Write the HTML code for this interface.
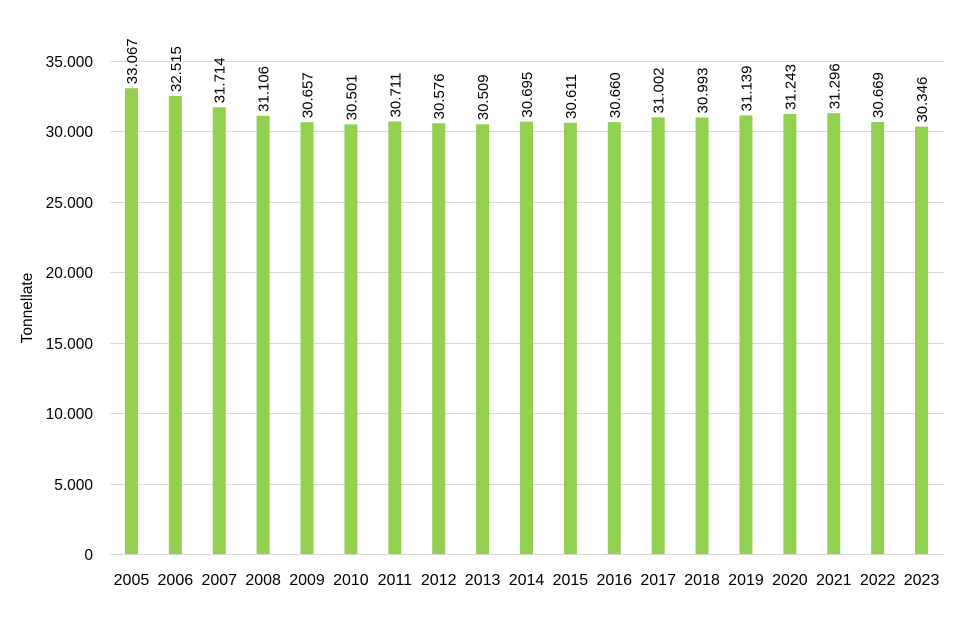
<!DOCTYPE html>
<html><head><meta charset="utf-8"><style>
html,body{margin:0;padding:0;background:#fff;}
svg text{font-family:"Liberation Sans",sans-serif;fill:#000;}
</style></head><body>
<svg width="976" height="638" viewBox="0 0 976 638" xmlns="http://www.w3.org/2000/svg">
<g id="grid" stroke="#d9d9d9" stroke-width="1"></g>
<g id="bars"></g>
<g id="txt"></g>
</svg>
<script>
const vals=[33067,32515,31714,31106,30657,30501,30711,30576,30509,30695,30611,30660,31002,30993,31139,31243,31296,30669,30346];
const ns="http://www.w3.org/2000/svg";
const y0=554, k=493/35000, left=110, right=944, step=(right-left)/19;
const g=document.getElementById('grid'),b=document.getElementById('bars'),t=document.getElementById('txt');
function el(tag,a,p,txt){const e=document.createElementNS(ns,tag);for(const x in a)e.setAttribute(x,a[x]);if(txt!=null)e.textContent=txt;p.appendChild(e);return e;}
for(let i=0;i<=7;i++){const y=Math.round(y0-i*5000*k)+0.5;
 el('line',{x1:left,x2:right,y1:y,y2:y},g);
 el('text',{x:93,y:y+5.5,'text-anchor':'end','font-size':15.5},t,i==0?'0':(i*5)+'.000');}
vals.forEach((v,i)=>{const cx=left+step*(i+0.5)-0.5;const top=y0-v*k;
 el('rect',{x:cx-6.5,y:top,width:13,height:y0-top,fill:'#92d050'},b);
 el('text',{x:0,y:0,'font-size':15,transform:`translate(${cx+5.5},${top-4}) rotate(-90)`},t,(v/1000).toFixed(3));
 el('text',{x:cx,y:585,'text-anchor':'middle','font-size':16},t,String(2005+i));});
el('text',{x:0,y:0,'font-size':15.5,'text-anchor':'middle',transform:'translate(32,308) rotate(-90)'},t,'Tonnellate');
</script>
</body></html>
